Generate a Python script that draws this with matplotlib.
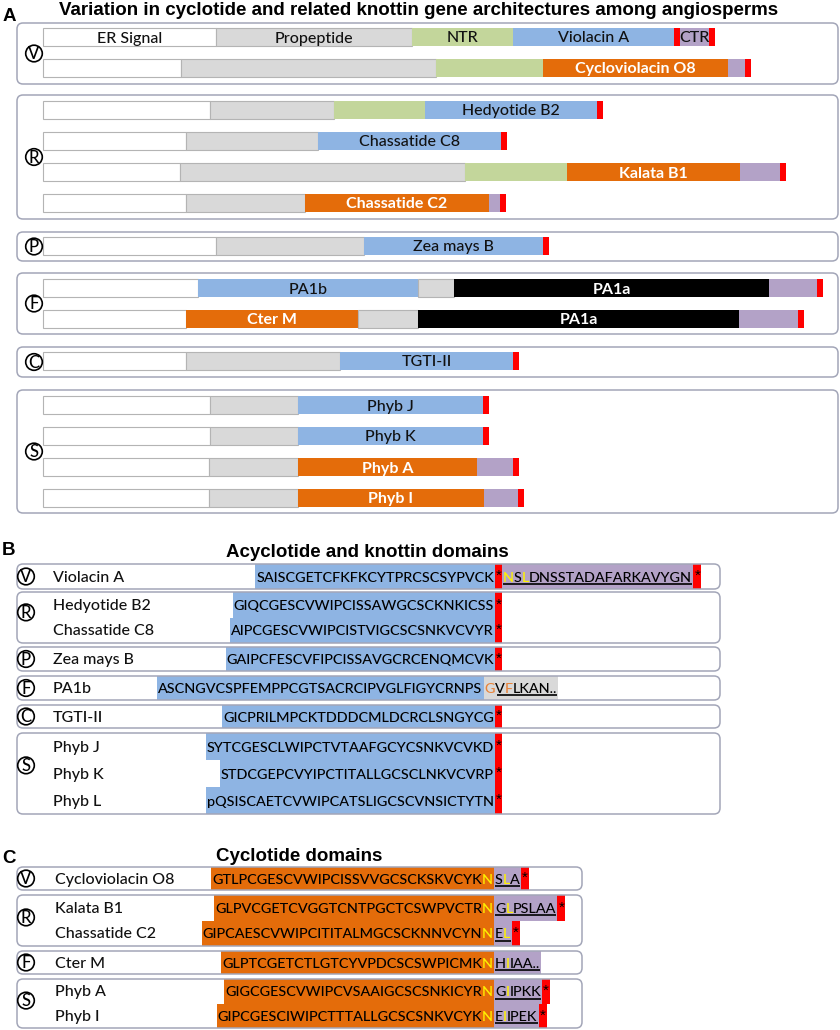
import numpy as np
import matplotlib
matplotlib.use('Agg')
import matplotlib.pyplot as plt
from matplotlib.patches import FancyBboxPatch, Circle

# ------------------------------------------------------------------ data
# Panel A: gene architectures (segment kinds and lengths, in px-like units)
A_genes = ['Violacin A', 'Cycloviolacin O8', 'Hedyotide B2', 'Chassatide C8',
           'Kalata B1', 'Chassatide C2', 'Zea mays B', 'PA1b', 'Cter M',
           'TGTI-II', 'Phyb J', 'Phyb K', 'Phyb A', 'Phyb I']
A_groups = ['V', 'V', 'R', 'R', 'R', 'R', 'P', 'F', 'F', 'C', 'S', 'S', 'S', 'S']
A_kinds = [
    ['er', 'pro', 'ntr', 'acy', 'stop', 'ctr', 'stop'],
    ['er', 'pro', 'ntr', 'cyc', 'ctr', 'stop'],
    ['er', 'pro', 'ntr', 'acy', 'stop'],
    ['er', 'pro', 'acy', 'stop'],
    ['er', 'pro', 'ntr', 'cyc', 'ctr', 'stop'],
    ['er', 'pro', 'cyc', 'ctr', 'stop'],
    ['er', 'pro', 'acy', 'stop'],
    ['er', 'acy', 'pro', 'pa1a', 'ctr', 'stop'],
    ['er', 'cyc', 'pro', 'pa1a', 'ctr', 'stop'],
    ['er', 'pro', 'acy', 'stop'],
    ['er', 'pro', 'acy', 'stop'],
    ['er', 'pro', 'acy', 'stop'],
    ['er', 'pro', 'cyc', 'ctr', 'stop'],
    ['er', 'pro', 'cyc', 'ctr', 'stop'],
]
A_widths = [
    [173, 196, 101, 161, 6, 29, 6],
    [138, 255, 107, 185, 17, 6],
    [167, 124, 91, 172, 6],
    [143, 132, 183, 6],
    [137, 285, 102, 173, 40, 6],
    [143, 119, 184, 11, 6],
    [173, 148, 179, 6],
    [155, 220, 36, 315, 48, 6],
    [143, 172, 60, 321, 59, 6],
    [143, 154, 173, 6],
    [167, 88, 185, 6],
    [167, 88, 185, 6],
    [166, 89, 179, 36, 6],
    [166, 89, 186, 34, 6],
]
A_labels = [
    ['ER Signal', 'Propeptide', 'NTR', 'Violacin A', '', 'CTR', ''],
    ['', '', '', 'Cycloviolacin O8', '', ''],
    ['', '', '', 'Hedyotide B2', ''],
    ['', '', 'Chassatide C8', ''],
    ['', '', '', 'Kalata B1', '', ''],
    ['', '', 'Chassatide C2', '', ''],
    ['', '', 'Zea mays B', ''],
    ['', 'PA1b', '', 'PA1a', '', ''],
    ['', 'Cter M', '', 'PA1a', '', ''],
    ['', '', 'TGTI-II', ''],
    ['', '', 'Phyb J', ''],
    ['', '', 'Phyb K', ''],
    ['', '', 'Phyb A', '', ''],
    ['', '', 'Phyb I', '', ''],
]

# Panel B: acyclotide and knottin domains
B_names = ['Violacin A', 'Hedyotide B2', 'Chassatide C8', 'Zea mays B', 'PA1b',
           'TGTI-II', 'Phyb J', 'Phyb K', 'Phyb L']
B_groups = ['V', 'R', 'R', 'P', 'F', 'C', 'S', 'S', 'S']
B_seqs = ['SAISCGETCFKFKCYTPRCSCSYPVCK',
          'GIQCGESCVWIPCISSAWGCSCKNKICSS',
          'AIPCGESCVWIPCISTVIGCSCSNKVCVYR',
          'GAIPCFESCVFIPCISSAVGCRCENQMCVK',
          'ASCNGVCSPFEMPPCGTSACRCIPVGLFIGYCRNPS',
          'GICPRILMPCKTDDDCMLDCRCLSNGYCG',
          'SYTCGESCLWIPCTVTAAFGCYCSNKVCVKD',
          'STDCGEPCVYIPCTITALLGCSCLNKVCVRP',
          'pQSISCAETCVWIPCATSLIGCSCVNSICTYTN']
B_stop = [True, True, True, True, False, True, True, True, True]
B_tails = ['NSLDNSSTADAFARKAVYGN', '', '', '', 'GVFLKAN..', '', '', '', '']
B_tail_kind = ['ctr', '', '', '', 'pro', '', '', '', '']
B_tail_hi = [[0, 2], [], [], [], [0, 2], [], [], [], []]
B_tail_stop = [True, False, False, False, False, False, False, False, False]

# Panel C: cyclotide domains (last residue N = cyclisation Asn)
C_names = ['Cycloviolacin O8', 'Kalata B1', 'Chassatide C2', 'Cter M', 'Phyb A', 'Phyb I']
C_groups = ['V', 'R', 'R', 'F', 'S', 'S']
C_seqs = ['GTLPCGESCVWIPCISSVVGCSCKSKVCYKN',
          'GLPVCGETCVGGTCNTPGCTCSWPVCTRN',
          'GIPCAESCVWIPCITITALMGCSCKNNVCYNN',
          'GLPTCGETCTLGTCYVPDCSCSWPICMKN',
          'GIGCGESCVWIPCVSAAIGCSCSNKICYRN',
          'GIPCGESCIWIPCTTTALLGCSCSNKVCYKN']
C_tails = ['SLA', 'GLPSLAA', 'EL', 'HIIAA..', 'GIIPKK', 'EIIPEK']
C_tail_hi = [[1], [1], [1], [1], [1], [1]]
C_tail_stop = [True, True, True, False, True, True]

# ------------------------------------------------------------------ style
COL = {'er': '#FFFFFF', 'pro': '#D9D9D9', 'ntr': '#C3D69B', 'acy': '#8EB4E3',
       'cyc': '#E46C0A', 'ctr': '#B3A2C7', 'stop': '#FF0000', 'pa1a': '#000000'}
DARK = '#000000'
YEL = '#FFF200'
ORG_TXT = '#E8833A'
BOXEDGE = '#A3A6B8'
SANS = ['Lato', 'DejaVu Sans']
HEAD = ['Liberation Sans', 'DejaVu Sans']
WT = 'medium'

fig = plt.figure(figsize=(8.4, 10.3), dpi=100)
ax = fig.add_axes([0, 0, 1, 1])
ax.set_xlim(0, 840)
ax.set_ylim(1030, 0)
ax.axis('off')
R = fig.canvas.get_renderer()

_cache = {}


def tw(s, fs, weight=WT):
    key = (s, fs, weight)
    if key not in _cache:
        t = ax.text(0, 0, s, fontsize=fs, fontweight=weight, family=SANS)
        _cache[key] = t.get_window_extent(R).width
        t.remove()
    return _cache[key]


def draw_runs(x_left, base, text, hi, base_col, hi_col, fs, z=5):
    i = 0
    n = len(text)
    while i < n:
        flag = i in hi
        j = i
        while j < n and (j in hi) == flag:
            j += 1
        seg = text[i:j]
        x = x_left + tw(text[:j], fs) - tw(seg, fs)
        ax.text(x, base, seg, ha='left', va='baseline', fontsize=fs,
                fontweight=WT, family=SANS,
                color=hi_col if flag else base_col, zorder=z)
        i = j
    return tw(text, fs)


def box(x0, x1, y0, y1):
    ax.add_patch(FancyBboxPatch((x0, y0), x1 - x0, y1 - y0,
                                boxstyle='round,pad=0,rounding_size=6',
                                fc='none', ec=BOXEDGE, lw=1.1, zorder=4))


def circ(x, y, letter):
    ax.add_patch(Circle((x, y), 8.3, fc='white', ec=DARK, lw=1.2, zorder=6))
    ax.text(x, y + 5.8, letter, ha='center', va='baseline', fontsize=12,
            fontweight=WT, family=SANS, color=DARK, zorder=7)


def star(x, top, base):
    ax.text(x, base - 1.5, '*', ha='center', va='baseline', fontsize=11,
            family=HEAD, color=DARK, zorder=5)


# ------------------------------------------------------------------ titles
ax.text(3, 21, 'A', fontsize=13.5, weight='bold', family=HEAD, va='baseline')
ax.text(419, 15, 'Variation in cyclotide and related knottin gene architectures among angiosperms',
        fontsize=13.5, weight='bold', family=HEAD, ha='center', va='baseline')
ax.text(2, 555, 'B', fontsize=13.5, weight='bold', family=HEAD, va='baseline')
ax.text(367, 557, 'Acyclotide and knottin domains', fontsize=13.5, weight='bold',
        family=HEAD, ha='center', va='baseline')
ax.text(2, 863, 'C', fontsize=13.5, weight='bold', family=HEAD, va='baseline')
ax.text(299, 861, 'Cyclotide domains', fontsize=13.5, weight='bold',
        family=HEAD, ha='center', va='baseline')

# ------------------------------------------------------------------ panel A
A_row_y = [37, 68, 110, 141, 172, 203, 246, 288, 319, 361, 405, 436, 467, 498]
A_boxes = [('V', 23, 84), ('R', 95, 219), ('P', 232, 261), ('F', 273, 334),
           ('C', 347, 377), ('S', 390, 513)]
A_x0 = 43
for g, y0, y1 in A_boxes:
    box(17, 838, y0, y1)
    circ(34, (y0 + y1) / 2, g)

for i, gene in enumerate(A_genes):
    y = A_row_y[i]
    w = np.array(A_widths[i], dtype=float)
    lefts = A_x0 + np.concatenate([[0], np.cumsum(w)[:-1]])
    kinds = A_kinds[i]
    ax.barh([y] * len(w), w, left=lefts, height=18,
            color=[COL[k] for k in kinds],
            edgecolor=['#B4B4B4' if k in ('er', 'pro') else COL[k] for k in kinds],
            linewidth=[0.8 if k in ('er', 'pro') else 0 for k in kinds], zorder=2)
    for lab, l, ww, k in zip(A_labels[i], lefts, w, kinds):
        if lab:
            bold = k in ('cyc', 'pa1a')
            ax.text(l + ww / 2, y + 5.5, lab, ha='center', va='baseline',
                    fontsize=11.5, family=SANS, weight='bold' if bold else WT,
                    color='white' if bold else '#111111', zorder=3)

# ------------------------------------------------------------------ panel B
FS = 10.4
B_boxes = [('V', 564, 589), ('R', 592, 643), ('P', 647, 671), ('F', 676, 700),
           ('C', 705, 728), ('S', 733, 814)]
B_stop_x = 495
for g, y0, y1 in B_boxes:
    box(17, 720, y0, y1)
    rows = [i for i, gg in enumerate(B_groups) if gg == g]
    n = len(rows)
    bh = (y1 - y0) / n
    circ(26, (y0 + y1) / 2 - (0.1 * (y1 - y0) if n > 1 else 0), g)
    for k, i in enumerate(rows):
        top = y0 + k * bh
        yc = top + bh / 2
        base = yc + 5.2
        ax.text(53, base, B_names[i], fontsize=11.5, fontweight=WT, family=SANS,
                color='#111111', va='baseline', zorder=5)
        tail = B_tails[i]
        if B_stop[i]:
            seq_right = B_stop_x
        else:
            seq_right = B_stop_x - tw(tail[0], FS) - 1
        ws = tw(B_seqs[i], FS)
        sl = seq_right - 1 - ws
        ax.barh(yc, seq_right - (sl - 1), left=sl - 1, height=bh,
                color=COL['acy'], zorder=1)
        draw_runs(sl, base, B_seqs[i], [], DARK, DARK, FS)
        x = seq_right
        if B_stop[i]:
            ax.barh(yc, 7, left=x, height=bh, color=COL['stop'], zorder=1)
            star(x + 3.5, top, base)
            x += 7
        if tail:
            kind = B_tail_kind[i]
            hi_col = YEL if kind == 'ctr' else ORG_TXT
            wt = draw_runs(x + 1, base, tail, B_tail_hi[i], DARK, hi_col, FS)
            ax.barh(yc, wt + 2, left=x, height=bh, color=COL[kind], zorder=1)
            ul = 0 if kind == 'ctr' else 1
            u0 = x + 1 + (tw(tail[:ul], FS) + 1.5 if ul else 0)
            ax.plot([u0, x + 1 + wt], [base + 2.2, base + 2.2], color=DARK,
                    lw=1.2, zorder=5, solid_capstyle='butt')
            x += wt + 2
            if B_tail_stop[i]:
                ax.barh(yc, 8, left=x, height=bh, color=COL['stop'], zorder=1)
                star(x + 4, top, base)

# ------------------------------------------------------------------ panel C
C_boxes = [('V', 867, 890), ('R', 895, 946), ('F', 951, 974), ('S', 979, 1028)]
C_stop_x = 494
for g, y0, y1 in C_boxes:
    box(17, 582, y0, y1)
    rows = [i for i, gg in enumerate(C_groups) if gg == g]
    n = len(rows)
    bh = (y1 - y0) / n
    circ(26, (y0 + y1) / 2 - (0.06 * (y1 - y0) if n > 1 else 0), g)
    for k, i in enumerate(rows):
        top = y0 + k * bh
        yc = top + bh / 2
        base = yc + 5.2
        ax.text(55, base, C_names[i], fontsize=11.5, fontweight=WT, family=SANS,
                color='#111111', va='baseline', zorder=5)
        seq = C_seqs[i]
        ws = tw(seq, FS)
        sl = C_stop_x - 1 - ws
        ax.barh(yc, C_stop_x - (sl - 1), left=sl - 1, height=bh,
                color=COL['cyc'], zorder=1)
        draw_runs(sl, base, seq, [len(seq) - 1], DARK, YEL, FS)
        x = C_stop_x
        tail = C_tails[i]
        wt = draw_runs(x + 1, base, tail, C_tail_hi[i], DARK, YEL, FS)
        ax.barh(yc, wt + 2, left=x, height=bh, color=COL['ctr'], zorder=1)
        ax.plot([x + 1, x + 1 + wt], [base + 2.2, base + 2.2], color=DARK,
                lw=1.2, zorder=5, solid_capstyle='butt')
        x += wt + 2
        if C_tail_stop[i]:
            ax.barh(yc, 8, left=x, height=bh, color=COL['stop'], zorder=1)
            star(x + 4, top, base)

fig.savefig('out.png', dpi=100)
